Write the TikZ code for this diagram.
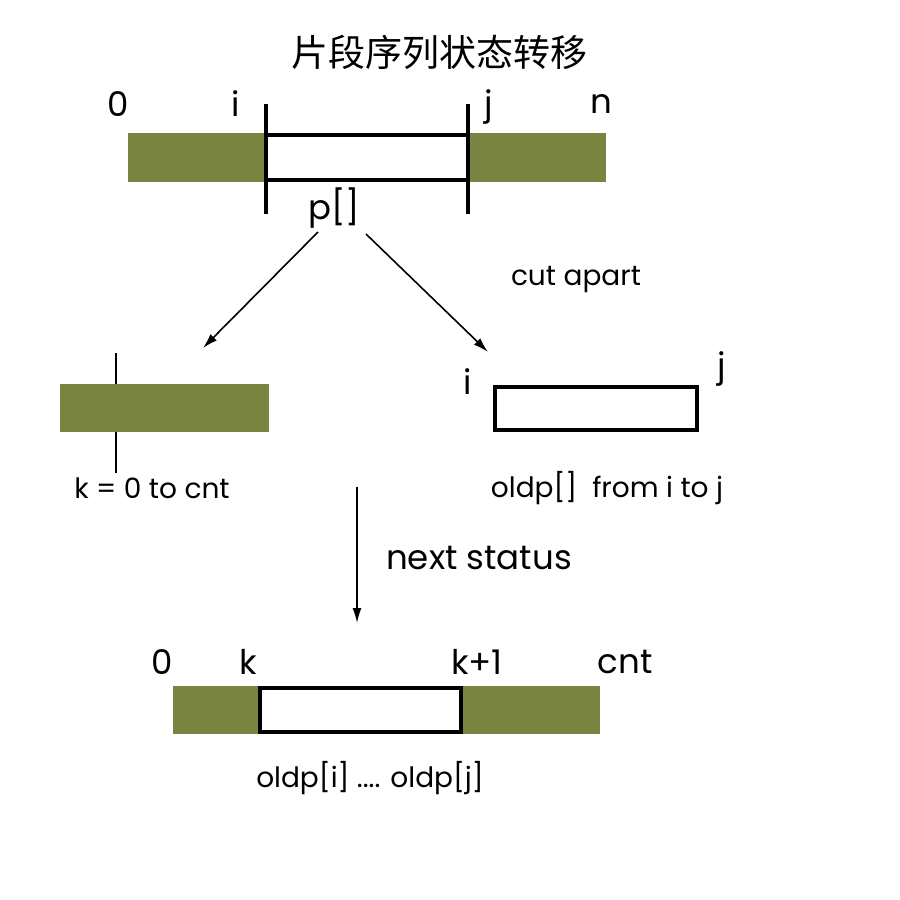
\documentclass[tikz,border=0pt]{standalone}
\usepackage{fontspec}
\setmainfont{Poppins}
\newfontfamily\cjk{Noto Sans CJK SC}
\usetikzlibrary{arrows.meta}
\definecolor{olive}{HTML}{7A8441}
\begin{document}
\begin{tikzpicture}[x=1pt,y=-1pt,
  seg/.style={fill=olive,draw=none},
  hole/.style={fill=white,draw=black,line width=4pt},
  lbl/.style={inner sep=0pt,anchor=center,font=\fontsize{34}{38}\selectfont},
  sm/.style={inner sep=0pt,anchor=center,font=\fontsize{28}{31}\selectfont},
  arr/.style={line width=1.6pt,-{Latex[length=15pt,width=9pt]}},
  tick/.style={line width=4pt},
  thin/.style={line width=1.6pt}]
\useasboundingbox[fill=white] (0,0) rectangle (900,900);
% title
\node[inner sep=0pt] (title) at (439,52) {\cjk\fontsize{37}{40}\selectfont 片段序列状态转移};
% top bar
\fill[seg] (128,133) rectangle (606,182);
\draw[hole] (266,135) rectangle (468,180);
\draw[tick] (266,104) -- (266,214);
\draw[tick] (468,104) -- (468,214);
\node[lbl] (t0) at (118,104) {0};
\node[lbl] (ti) at (236,104) {i};
\node[lbl] (tj) at (489,107) {j};
\node[lbl] (tn) at (601,104) {n};
\node[lbl] (p) at (334,208) {p[]};
% split arrows
\coordinate (a1s) at (318,232);
\coordinate (a1e) at (203,348);
\coordinate (a2s) at (366,234);
\coordinate (a2e) at (488,352);
\draw[arr] (a1s) -- (a1e);
\draw[arr] (a2s) -- (a2e);
\node[sm] (cut) at (576,280) {cut apart};
% left piece
\draw[thin] (116,353) -- (116,473);
\fill[seg] (60,384) rectangle (269,432);
\node[sm] (kr) at (152,488) {k = 0 to cnt};
% right piece
\draw[hole] (495,387) rectangle (697,430);
\node[lbl] (ri) at (468,382) {i};
\node[lbl] (rj) at (722,369) {j};
\node[sm] (od) at (607,488) {oldp[]\ \ from i to j};
% down arrow
\coordinate (ds) at (357,487);
\coordinate (de) at (357,623);
\draw[arr] (ds) -- (de);
\node[lbl] (ns) at (479,558) {next status};
% bottom bar
\fill[seg] (173,686) rectangle (600,734);
\draw[hole] (260,688) rectangle (461,732);
\node[lbl] (b0) at (162,662) {0};
\node[lbl] (bk) at (248,662) {k};
\node[lbl] (bk1) at (477,662) {k+1};
\node[lbl] (bc) at (625,662) {cnt};
\node[sm] (bo) at (370,778) {oldp[i] .... oldp[j]};
\end{tikzpicture}
\end{document}
